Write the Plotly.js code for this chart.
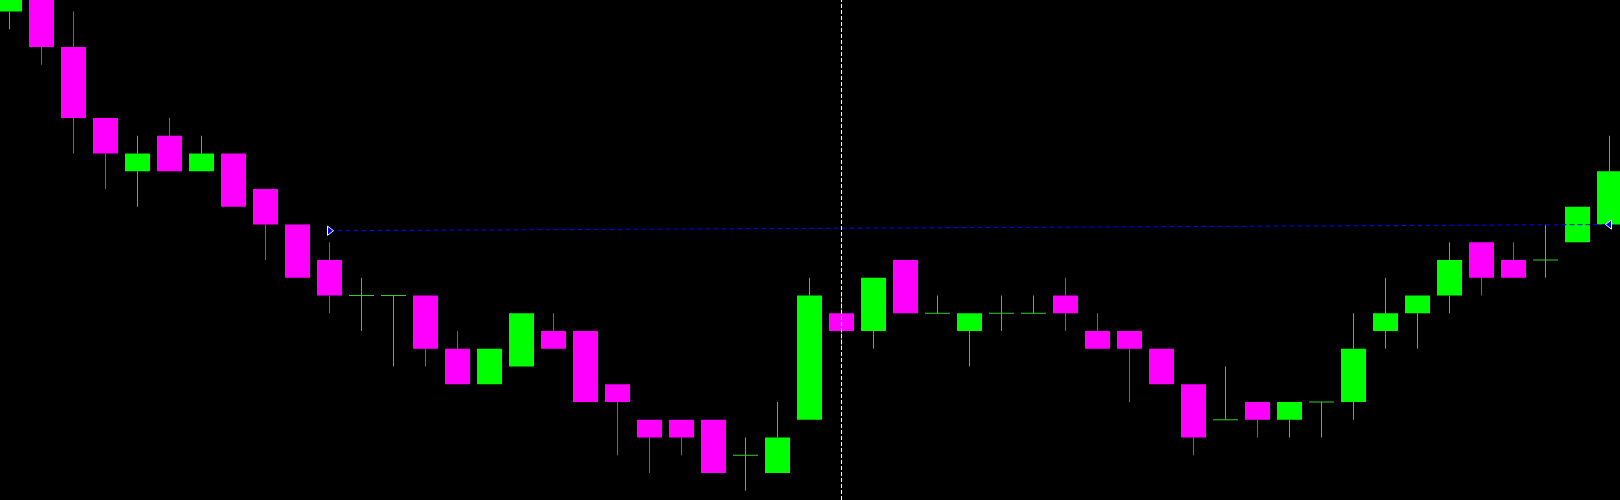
<!DOCTYPE html>
<html>
<head>
<meta charset="utf-8">
<script src="https://cdn.plot.ly/plotly-3.0.1.min.js"></script>
<style>
html, body { margin: 0; padding: 0; background: #000; overflow: hidden; }
#chart { width: 1620px; height: 500px; }
</style>
</head>
<body>
<div id="chart"></div>
<script>
// ---- data (bar index, OHLC prices) ----
const candleIndex = [0,1,2,3,4,5,6,7,8,9,10,11,12,13,14,15,16,17,18,19,20,21,22,23,24,25,26,27,28,29,30,31,32,33,34,35,36,37,38,39,40,41,42,43,44,45,46,47,48,49,50];
const openPrices  = [1.0880,1.0882,1.0876,1.0868,1.0862,1.0866,1.0862,1.0864,1.0860,1.0856,1.0852,1.0848,1.0848,1.0848,1.0842,1.0838,1.0840,1.0844,1.0844,1.0838,1.0834,1.0834,1.0834,1.0830,1.0828,1.0834,1.0846,1.0844,1.0852,1.0846,1.0844,1.0846,1.0846,1.0848,1.0844,1.0844,1.0842,1.0838,1.0834,1.0836,1.0834,1.0836,1.0836,1.0844,1.0846,1.0848,1.0854,1.0852,1.0852,1.0854,1.0856];
const highPrices  = [1.0884,1.0884,1.0880,1.0868,1.0866,1.0868,1.0866,1.0864,1.0860,1.0856,1.0854,1.0850,1.0848,1.0848,1.0844,1.0842,1.0846,1.0846,1.0844,1.0838,1.0834,1.0834,1.0834,1.0832,1.0836,1.0850,1.0848,1.0850,1.0852,1.0848,1.0846,1.0848,1.0848,1.0850,1.0846,1.0844,1.0842,1.0838,1.0840,1.0836,1.0836,1.0836,1.0846,1.0850,1.0848,1.0854,1.0854,1.0854,1.0856,1.0858,1.0866];
const lowPrices   = [1.0878,1.0874,1.0864,1.0860,1.0858,1.0862,1.0862,1.0858,1.0852,1.0850,1.0846,1.0844,1.0840,1.0840,1.0838,1.0838,1.0840,1.0842,1.0836,1.0830,1.0828,1.0830,1.0828,1.0826,1.0828,1.0834,1.0842,1.0842,1.0846,1.0846,1.0840,1.0844,1.0846,1.0844,1.0842,1.0836,1.0838,1.0830,1.0834,1.0832,1.0832,1.0832,1.0834,1.0842,1.0842,1.0846,1.0848,1.0850,1.0850,1.0854,1.0856];
const closePrices = [1.0882,1.0876,1.0868,1.0864,1.0864,1.0862,1.0864,1.0858,1.0856,1.0850,1.0848,1.0848,1.0848,1.0842,1.0838,1.0842,1.0846,1.0842,1.0836,1.0836,1.0832,1.0832,1.0828,1.0830,1.0832,1.0848,1.0844,1.0850,1.0846,1.0846,1.0846,1.0846,1.0846,1.0846,1.0842,1.0842,1.0838,1.0832,1.0834,1.0834,1.0836,1.0836,1.0842,1.0846,1.0848,1.0852,1.0850,1.0850,1.0852,1.0858,1.0862];

// trend line anchors and vertical cursor line
const trendIndex  = [10, 50];
const trendPrices = [1.08553, 1.08560];
const cursorIndex = 26;

// ---- styles ----
const BULL_BODY = '#00ff00', BULL_WICK = '#32cd32';
const BEAR_BODY = '#ff00ff', BEAR_WICK = '#ff00ff';
const PX_PER_BAR = 32;
const BODY_W = 25 / PX_PER_BAR;
const HALF = BODY_W / 2;

// ---- build traces from the data ----
const bull = {x: [], base: [], y: []};
const bear = {x: [], base: [], y: []};
const bullWick = {x: [], y: []};
const bearWick = {x: [], y: []};

candleIndex.forEach((i, k) => {
  const o = openPrices[k], h = highPrices[k], l = lowPrices[k], c = closePrices[k];
  const up = c >= o;
  const top = Math.max(o, c), bot = Math.min(o, c);
  const body = up ? bull : bear;
  const wick = up ? bullWick : bearWick;
  if (top > bot) {
    body.x.push(i); body.base.push(bot); body.y.push(top - bot);
  } else {
    wick.x.push(i - HALF, i + HALF, null); wick.y.push(o, o, null);
  }
  if (h > top) { wick.x.push(i, i, null); wick.y.push(top, h, null); }
  if (l < bot) { wick.x.push(i, i, null); wick.y.push(l, bot, null); }
});

const traces = [
  {type: 'bar', x: bull.x, base: bull.base, y: bull.y, width: BODY_W,
   marker: {color: BULL_BODY, line: {width: 0}}, hoverinfo: 'skip'},
  {type: 'bar', x: bear.x, base: bear.base, y: bear.y, width: BODY_W,
   marker: {color: BEAR_BODY, line: {width: 0}}, hoverinfo: 'skip'},
  {type: 'scatter', mode: 'lines', x: bullWick.x, y: bullWick.y,
   line: {color: BULL_WICK, width: 1}, connectgaps: false, hoverinfo: 'skip'},
  {type: 'scatter', mode: 'lines', x: bearWick.x, y: bearWick.y,
   line: {color: BEAR_WICK, width: 1}, connectgaps: false, hoverinfo: 'skip'},
  {type: 'scatter', mode: 'lines', x: trendIndex, y: trendPrices,
   line: {color: '#0000ff', width: 1, dash: '5px,3px'}, hoverinfo: 'skip'},
  {type: 'scatter', mode: 'markers', x: trendIndex, y: trendPrices,
   marker: {symbol: ['triangle-right', 'triangle-left'], size: 8, color: '#0000ff',
            line: {color: '#ffffff', width: 1}}, hoverinfo: 'skip'}
];

const W = 1620, H = 500;
const x0 = -9.5 / PX_PER_BAR;
const x1 = x0 + W / PX_PER_BAR;

const layout = {
  width: W, height: H,
  margin: {l: 0, r: 0, t: 0, b: 0, pad: 0},
  paper_bgcolor: '#000000',
  plot_bgcolor: '#000000',
  showlegend: false,
  barmode: 'overlay',
  xaxis: {range: [x0, x1], visible: false, fixedrange: true},
  yaxis: {range: [1.082496, 1.0881296], visible: false, fixedrange: true},
  shapes: [{
    type: 'line', xref: 'x', yref: 'paper', x0: cursorIndex, x1: cursorIndex, y0: 0, y1: 1,
    line: {color: '#ffffff', width: 1, dash: '4px,2px'}, layer: 'above'
  }]
};

Plotly.newPlot('chart', traces, layout, {displayModeBar: false, responsive: false});
</script>
</body>
</html>
